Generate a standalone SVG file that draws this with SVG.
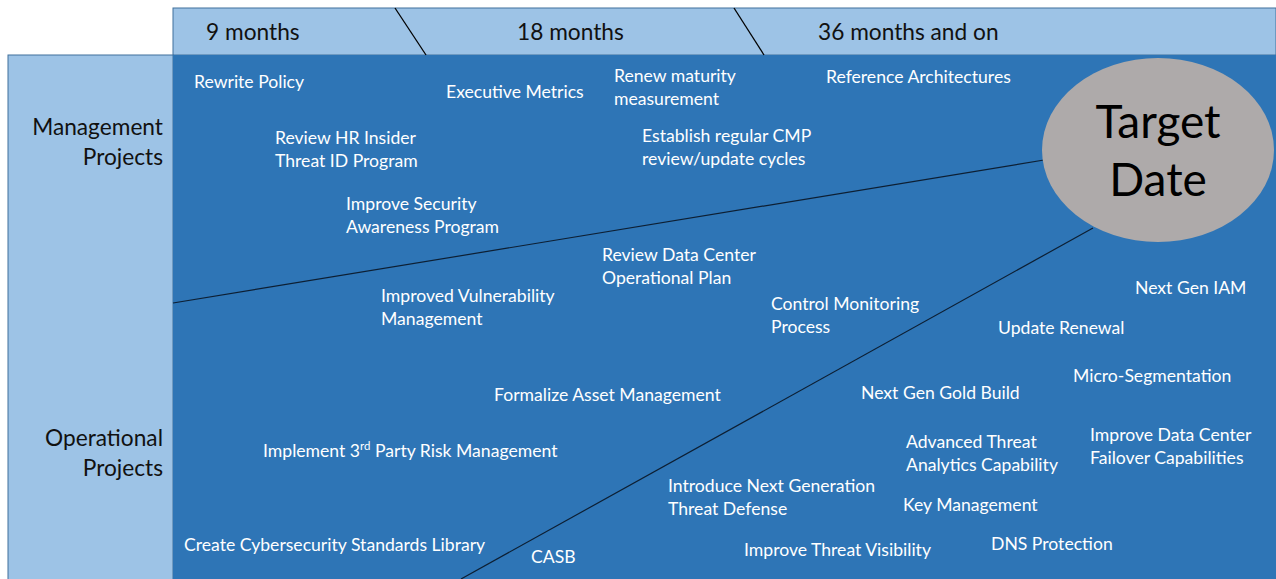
<svg xmlns="http://www.w3.org/2000/svg" width="1276" height="579" viewBox="0 0 1276 579">
<style>
.band{fill:#9DC3E6;stroke:#41719C;stroke-width:1}
.main{fill:#2E75B6}
.hdr{font-family:Lato,"Open Sans",sans-serif;font-size:22.7px;fill:#111}
.side{font-family:Lato,"Open Sans",sans-serif;font-size:22.7px;fill:#111;text-anchor:end}
.item{font-family:Lato,"Open Sans",sans-serif;font-size:17.6px;fill:#fff}
.big{font-family:Lato,"Open Sans",sans-serif;font-size:46px;fill:#000;text-anchor:middle}
.ln{stroke:#000;stroke-width:1.3;fill:none}
.thin{stroke:#0d1f33;stroke-width:1.2;fill:none}
</style>
<rect width="1276" height="579" fill="#fff"/>
<g id="header">
<rect class="band" x="173" y="8" width="1103" height="47"/>
<text class="hdr" x="206" y="40">9 months</text>
<text class="hdr" x="517" y="40">18 months</text>
<text class="hdr" x="818" y="40">36 months and on</text>
</g>
<g id="side-panel">
<rect class="band" x="8" y="55" width="165" height="530"/>
<text class="side" x="163" y="135">Management</text>
<text class="side" x="163" y="165">Projects</text>
<text class="side" x="163" y="446">Operational</text>
<text class="side" x="163" y="476">Projects</text>
</g>
<g id="main-area">
<rect class="main" x="173" y="55" width="1103" height="530"/>
</g>
<g id="connectors">
<line class="ln" x1="395" y1="8" x2="426" y2="55"/>
<line class="ln" x1="734" y1="8" x2="764" y2="55"/>
<line class="thin" x1="173" y1="303" x2="1044" y2="160"/>
<line class="thin" x1="1093" y1="228" x2="461" y2="579"/>
</g>
<g id="target-date">
<ellipse cx="1158" cy="150" rx="116" ry="92" fill="#AEAAAA"/>
<text class="big" x="1158" y="138">Target</text>
<text class="big" x="1158" y="196">Date</text>
</g>
<g id="items">
<text class="item" x="194" y="88">Rewrite Policy</text>
<text class="item" x="446" y="98">Executive Metrics</text>
<text class="item" x="614" y="82">Renew maturity</text>
<text class="item" x="614" y="105">measurement</text>
<text class="item" x="826" y="83">Reference Architectures</text>
<text class="item" x="275" y="144">Review HR Insider</text>
<text class="item" x="275" y="167">Threat ID Program</text>
<text class="item" x="642" y="142">Establish regular CMP</text>
<text class="item" x="642" y="165">review/update cycles</text>
<text class="item" x="346" y="210">Improve Security</text>
<text class="item" x="346" y="233">Awareness Program</text>
<text class="item" x="602" y="261">Review Data Center</text>
<text class="item" x="602" y="284">Operational Plan</text>
<text class="item" x="381" y="302">Improved Vulnerability</text>
<text class="item" x="381" y="325">Management</text>
<text class="item" x="771" y="310">Control Monitoring</text>
<text class="item" x="771" y="333">Process</text>
<text class="item" x="1135" y="294">Next Gen IAM</text>
<text class="item" x="998" y="334">Update Renewal</text>
<text class="item" x="1073" y="382">Micro-Segmentation</text>
<text class="item" x="494" y="401">Formalize Asset Management</text>
<text class="item" x="861" y="399">Next Gen Gold Build</text>
<text class="item" x="906" y="448">Advanced Threat</text>
<text class="item" x="906" y="471">Analytics Capability</text>
<text class="item" x="1090" y="441">Improve Data Center</text>
<text class="item" x="1090" y="464">Failover Capabilities</text>
<text class="item" x="263" y="457">Implement 3<tspan font-size="11.5" dy="-7">rd</tspan><tspan dy="7"> Party Risk Management</tspan></text>
<text class="item" x="668" y="492">Introduce Next Generation</text>
<text class="item" x="668" y="515">Threat Defense</text>
<text class="item" x="903" y="511">Key Management</text>
<text class="item" x="184" y="551">Create Cybersecurity Standards Library</text>
<text class="item" x="531" y="563">CASB</text>
<text class="item" x="744" y="556">Improve Threat Visibility</text>
<text class="item" x="991" y="550">DNS Protection</text>
</g>
</svg>
